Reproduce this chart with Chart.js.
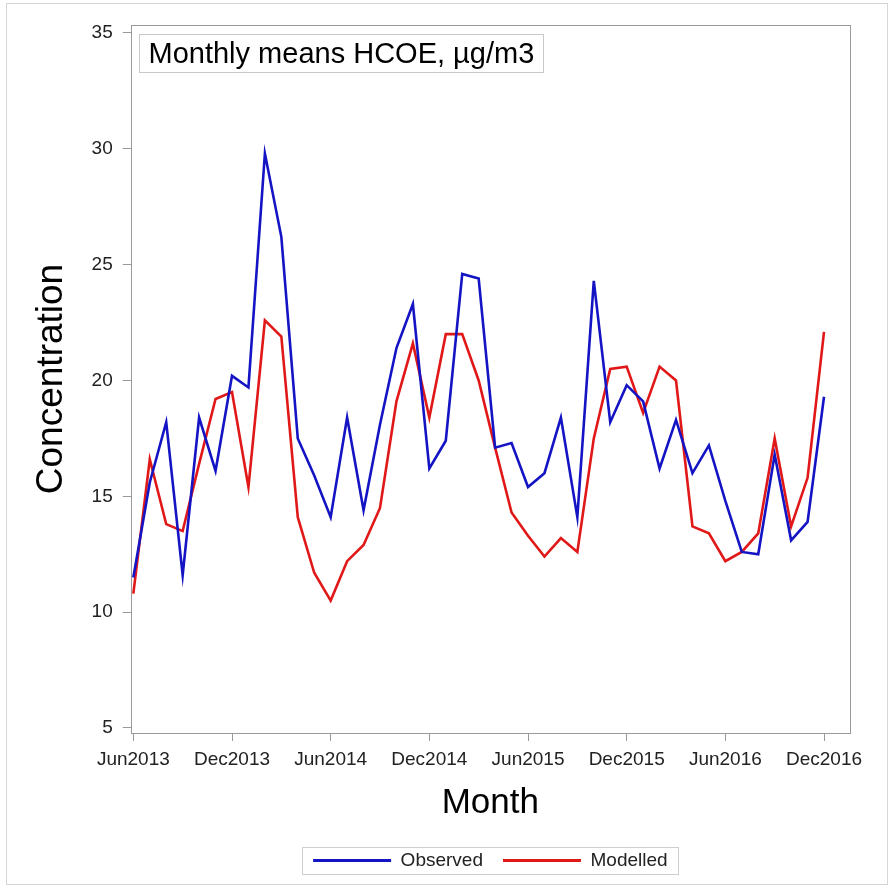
<!DOCTYPE html>
<html>
<head>
<meta charset="utf-8">
<script src="https://cdn.jsdelivr.net/npm/chart.js@4.4.1/dist/chart.umd.min.js"></script>
<style>
  html, body { margin: 0; padding: 0; background: #ffffff; }
  #wrap { position: relative; width: 892px; height: 891px; }
  #frame { position: absolute; left: 6px; top: 3px; width: 882px; height: 882px; border: 1px solid #d6d6d6; box-sizing: border-box; }
  #c { position: absolute; left: 0; top: 0; }
</style>
</head>
<body>
<div id="wrap">
  <div id="frame"></div>
  <canvas id="c" width="892" height="891"></canvas>
</div>
<script>
// ---- data ----
const months = [
  'Jun2013','Jul2013','Aug2013','Sep2013','Oct2013','Nov2013','Dec2013',
  'Jan2014','Feb2014','Mar2014','Apr2014','May2014','Jun2014','Jul2014','Aug2014','Sep2014','Oct2014','Nov2014','Dec2014',
  'Jan2015','Feb2015','Mar2015','Apr2015','May2015','Jun2015','Jul2015','Aug2015','Sep2015','Oct2015','Nov2015','Dec2015',
  'Jan2016','Feb2016','Mar2016','Apr2016','May2016','Jun2016','Jul2016','Aug2016','Sep2016','Oct2016','Nov2016','Dec2016'
];
const observed = [
  11.5, 15.6, 18.2, 11.6, 18.4, 16.1, 20.2,
  19.7, 29.8, 26.2, 17.5, 15.9, 14.1, 18.4, 14.4, 18.1, 21.4, 23.3, 16.2,
  17.4, 24.6, 24.4, 17.1, 17.3, 15.4, 16.0, 18.4, 14.1, 24.3, 18.2, 19.8,
  19.1, 16.2, 18.3, 16.0, 17.2, 14.8, 12.6, 12.5, 16.8, 13.1, 13.9, 19.3
];
const modelled = [
  10.8, 16.6, 13.8, 13.5, 16.4, 19.2, 19.5,
  15.4, 22.6, 21.9, 14.1, 11.7, 10.5, 12.2, 12.9, 14.5, 19.1, 21.6, 18.4,
  22.0, 22.0, 20.0, 17.1, 14.3, 13.3, 12.4, 13.2, 12.6, 17.5, 20.5, 20.6,
  18.6, 20.6, 20.0, 13.7, 13.4, 12.2, 12.6, 13.4, 17.5, 13.7, 15.8, 22.1
];
const xTickLabels = ['Jun2013','Dec2013','Jun2014','Dec2014','Jun2015','Dec2015','Jun2016','Dec2016'];
const yTickValues = [5, 10, 15, 20, 25, 30, 35];
const seriesNames = ['Observed', 'Modelled'];
const chartTitle = 'Monthly means HCOE, \u00B5g/m3';
const xTitle = 'Month';
const yTitle = 'Concentration';

// ---- helpers built from the data ----
const toPoints = arr => arr.map((v, i) => ({ x: i, y: v }));
const xTickIndex = xTickLabels.map(l => months.indexOf(l));

const FONT = "'Liberation Sans', Arial, sans-serif";
const AXIS_GRAY = '#9a9a9a';

const framePlugin = {
  id: 'framePlugin',
  afterDatasetsDraw(chart) {
    const { ctx, chartArea: a } = chart;
    ctx.save();
    // plot frame
    ctx.strokeStyle = AXIS_GRAY;
    ctx.lineWidth = 1;
    ctx.strokeRect(Math.round(a.left) + 0.5, Math.round(a.top) + 0.5,
                   Math.round(a.right - a.left), Math.round(a.bottom - a.top));
    // inset title box
    ctx.font = '29px ' + FONT;
    const tw = ctx.measureText(chartTitle).width;
    const bx = Math.round(a.left) + 8.5, by = Math.round(a.top) + 9.5;
    const bw = Math.round(tw + 18), bh = 38;
    ctx.fillStyle = '#ffffff';
    ctx.fillRect(bx, by, bw, bh);
    ctx.strokeStyle = '#c8c8c8';
    ctx.strokeRect(bx, by, bw, bh);
    ctx.fillStyle = '#000000';
    ctx.textBaseline = 'middle';
    ctx.textAlign = 'left';
    ctx.fillText(chartTitle, bx + 9, by + bh / 2 + 1);
    // legend border
    const lg = chart.legend;
    if (lg && lg.legendHitBoxes && lg.legendHitBoxes.length) {
      const hb = lg.legendHitBoxes;
      const l = hb[0].left - 11, r = hb[hb.length - 1].left + hb[hb.length - 1].width + 11;
      const t = hb[0].top - 4, b = hb[0].top + hb[0].height + 4;
      ctx.strokeStyle = '#cfcfcf';
      ctx.strokeRect(Math.round(l) + 0.5, Math.round(t) + 0.5, Math.round(r - l), Math.round(b - t));
    }
    ctx.restore();
  }
};

new Chart(document.getElementById('c'), {
  type: 'line',
  data: {
    datasets: [
      { label: seriesNames[0], data: toPoints(observed), borderColor: '#1414c4', backgroundColor: '#1414c4',
        borderWidth: 2.6, pointRadius: 0, tension: 0 },
      { label: seriesNames[1], data: toPoints(modelled), borderColor: '#e01818', backgroundColor: '#e01818',
        borderWidth: 2.6, pointRadius: 0, tension: 0 }
    ]
  },
  options: {
    responsive: false,
    animation: false,
    devicePixelRatio: 1,
    layout: { padding: { left: 8, top: 25, right: 42, bottom: 11 } },
    plugins: {
      tooltip: { enabled: false },
      title: { display: false },
      legend: {
        display: true,
        position: 'bottom',
        fullSize: false,
        labels: {
          boxWidth: 78,
          boxHeight: 3,
          padding: 20,
          color: '#222222',
          font: { family: FONT, size: 19 },
          generateLabels: chart => Chart.defaults.plugins.legend.labels.generateLabels(chart)
            .map(l => Object.assign(l, { lineWidth: 0 }))
        }
      }
    },
    scales: {
      x: {
        type: 'linear',
        min: -0.16,
        max: 43.58,
        afterBuildTicks: s => { s.ticks = xTickIndex.map(v => ({ value: v })); },
        afterFit: s => { s.height = 98; },
        ticks: {
          autoSkip: false,
          maxRotation: 0,
          padding: 7,
          color: '#222222',
          font: { family: FONT, size: 19 },
          callback: v => { const k = xTickIndex.indexOf(v); return k >= 0 ? xTickLabels[k] : ''; }
        },
        grid: { display: true, drawOnChartArea: false, drawTicks: true, tickLength: 8, color: AXIS_GRAY },
        border: { display: false },
        title: { display: true, text: xTitle, color: '#000000', font: { family: FONT, size: 35 }, padding: { top: 0, bottom: 7 } }
      },
      y: {
        type: 'linear',
        min: 4.784,
        max: 35.345,
        afterBuildTicks: s => { s.ticks = yTickValues.map(v => ({ value: v })); },
        afterFit: s => { s.width = 122.7; },
        ticks: {
          padding: 10,
          color: '#222222',
          font: { family: FONT, size: 19 }
        },
        grid: { display: true, drawOnChartArea: false, drawTicks: true, tickLength: 8, color: AXIS_GRAY },
        border: { display: false },
        title: { display: true, text: yTitle, color: '#000000', font: { family: FONT, size: 37 }, padding: { top: 22, bottom: 0 } }
      }
    }
  },
  plugins: [framePlugin]
});
</script>
</body>
</html>
